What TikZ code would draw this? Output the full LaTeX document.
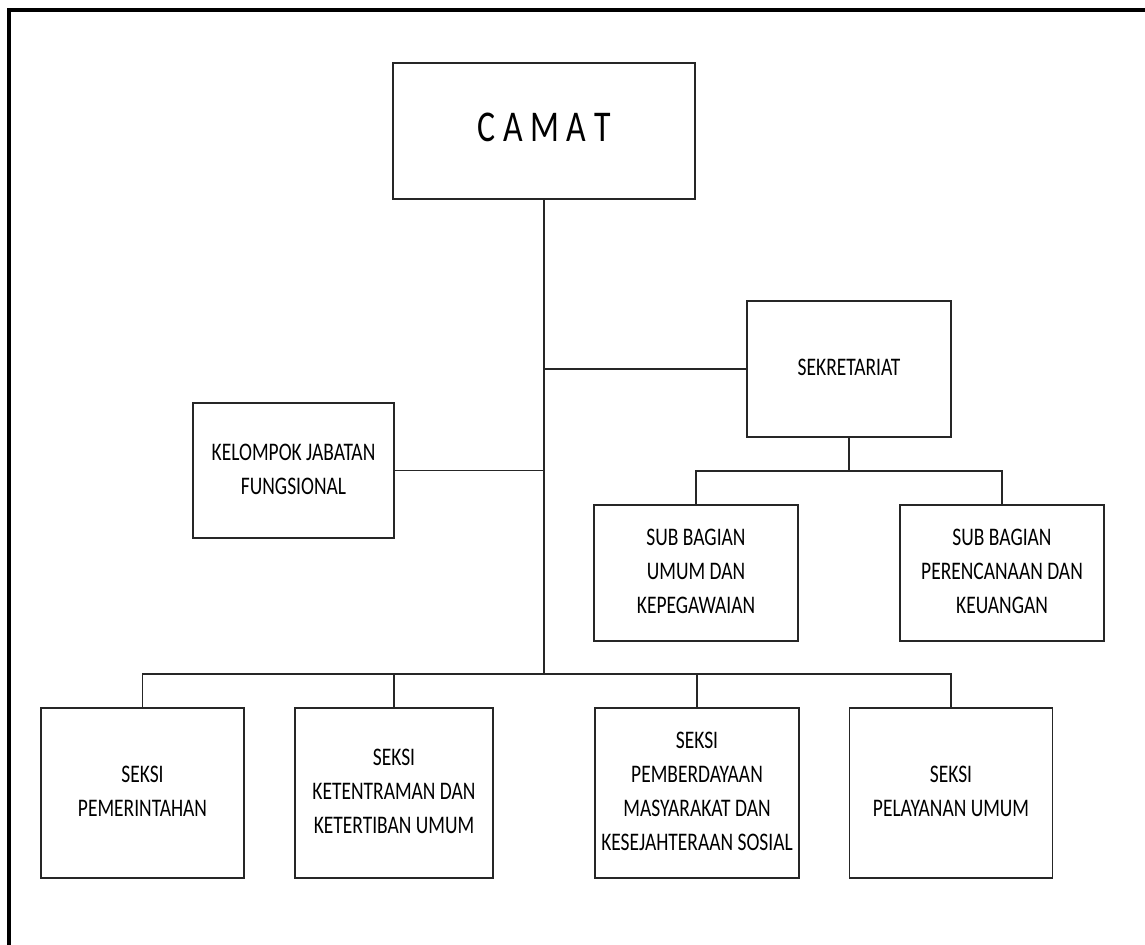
\documentclass[tikz,border=0pt]{standalone}
\usepackage{fontspec}
\setmainfont{Carlito}
\usepackage{graphicx}
\tikzstyle{box} = [rectangle, draw=black!85, line width=1pt, inner sep=0pt, text centered, minimum width=4.08cm, minimum height=2.72cm, font=\fontsize{14.4}{19.4}\selectfont]
\tikzstyle{seksi} = [box, minimum height=3.4cm]
\tikzstyle{line} = [draw=black!85, line width=1pt]
\tikzstyle{frame} = [line width=2.4pt]
\newcommand{\narrow}[1]{\scalebox{0.77}[1]{\begin{tabular}{@{}c@{}}#1\end{tabular}}}

\begin{document}
\begin{tikzpicture}[x=0.02cm, y=-0.02cm]
\useasboundingbox (0,0) rectangle (1145,945);
\draw [frame] (9,945) -- (9,10) -- (1145,10);

% Nodes
\node (camat) [box, minimum width=6.04cm, font=\fontsize{25}{30}\selectfont] at (544,131) {\narrow{C A M A T}};
\node (sek) [box] at (849,369) {\narrow{SEKRETARIAT}};
\node (kel) [box, minimum width=4.02cm, minimum height=2.7cm] at (293.5,470.5) {\narrow{KELOMPOK JABATAN\\FUNGSIONAL}};
\node (sumum) [box] at (696,573) {\narrow{SUB BAGIAN\\UMUM DAN\\KEPEGAWAIAN}};
\node (srenc) [box] at (1002,573) {\narrow{SUB BAGIAN\\PERENCANAAN DAN\\KEUANGAN}};
\node (pem) [seksi, minimum width=4.06cm] at (142.5,793) {\narrow{SEKSI\\PEMERINTAHAN}};
\node (ket) [seksi, minimum width=3.96cm] at (394,793) {\narrow{SEKSI\\KETENTRAMAN DAN\\KETERTIBAN UMUM}};
\node (pemb) [seksi] at (697,793) {\narrow{SEKSI\\PEMBERDAYAAN\\MASYARAKAT DAN\\KESEJAHTERAAN SOSIAL}};
\node (pel) [seksi, minimum width=4.06cm] at (951,793) {\narrow{SEKSI\\PELAYANAN UMUM}};

\coordinate (bus) at (544,674);
\coordinate (sbus) at (849,471);

% Lines
\draw [line] (camat.south) -- (bus);
\draw [line] (sek.west) -- (sek.west -| camat.south);
\draw [line] (kel.east) -- (kel.east -| camat.south);
\draw [line] (sek.south) -- (sbus);
\draw [line] (sumum.north) |- (sbus) -| (srenc.north);
\draw [line] (pem.north) |- (bus) -| (pel.north);
\draw [line] (ket.north) -- (ket.north |- bus);
\draw [line] (pemb.north) -- (pemb.north |- bus);

\end{tikzpicture}
\end{document}
